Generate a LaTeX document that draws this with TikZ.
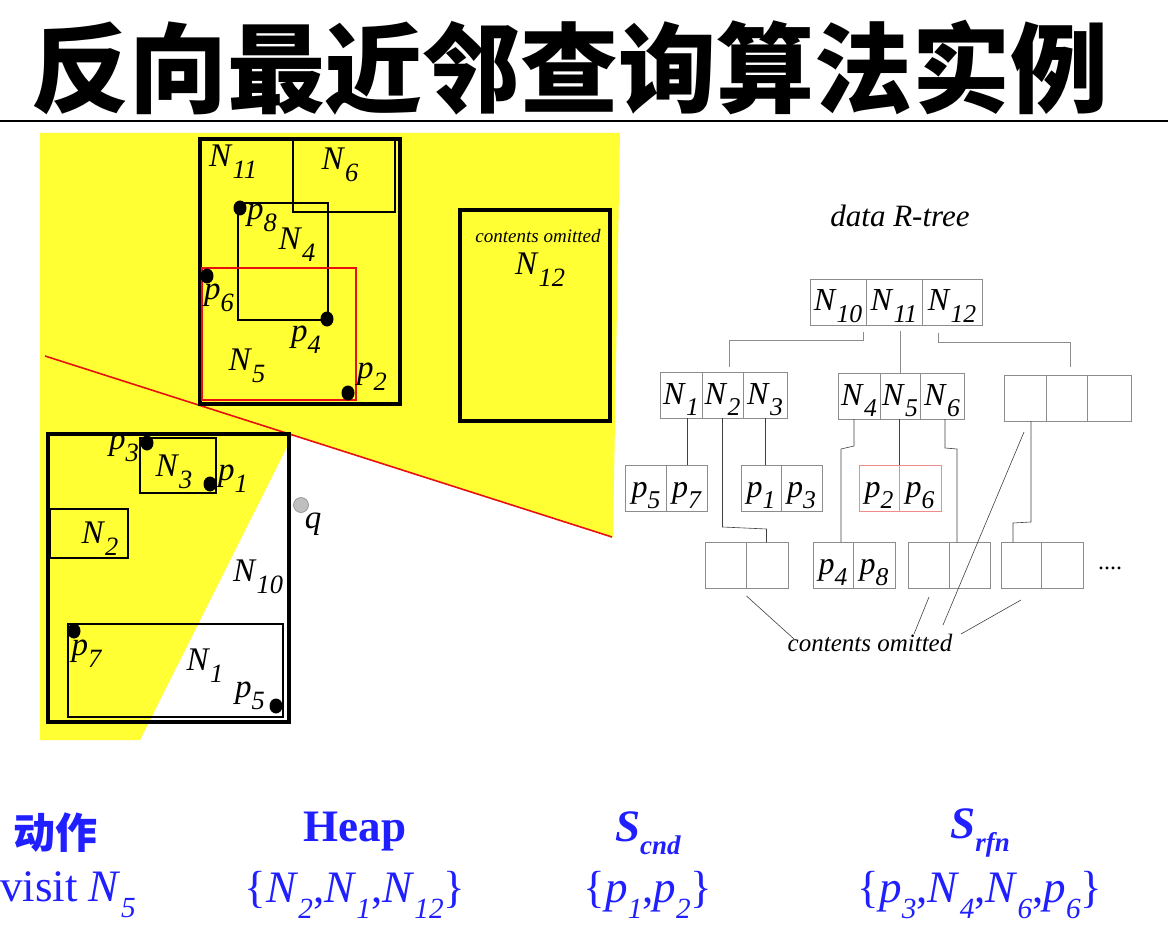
\documentclass[tikz,border=0pt]{standalone}
\usepackage{fontspec}
\setmainfont{Liberation Serif}
\newfontfamily\cjk{Noto Sans CJK SC}
\usetikzlibrary{positioning,calc}
\definecolor{RnnYellow}{HTML}{FFFF33}
\definecolor{RnnRed}{HTML}{E81010}
\definecolor{RnnBlue}{HTML}{1F1FFF}
\definecolor{RnnGray}{HTML}{8C8C8C}
\definecolor{RnnPink}{HTML}{F08C8C}
\newcommand{\idx}[3][0.8]{\textit{#2}\raisebox{-0.36em}{\scalebox{#1}{\textit{#3}}}}

\tikzset{
  bigmbr/.style={draw=black, line width=4pt},
  mbr/.style={draw=black, line width=2.2pt},
  lbl/.style={inner sep=0pt, font=\fontsize{33}{34}\selectfont},
  cell/.style={draw=RnnGray, line width=0.8pt, minimum height=46pt, inner sep=0pt, outer sep=0pt,
    text height=26pt, text depth=8pt, font=\fontsize{32}{33}\selectfont},
  link/.style={black!75, line width=0.6pt},
  toplink/.style={RnnGray, line width=0.8pt},
  foot/.style={RnnBlue, inner sep=0pt, font=\fontsize{45}{46}\selectfont}
}

\begin{document}
\begin{tikzpicture}[x=1pt,y=-1pt]
    \useasboundingbox (0,0) rectangle (1168,952);

    \node[font=\cjk\bfseries\fontsize{98}{100}\selectfont, inner sep=0pt] (title) at (570,68) {反向最近邻查询算法实例};
    \draw[line width=2.5pt] (0,121) -- (1168,121);

    % pruned region and bisector
    \fill[RnnYellow] (40,133) -- (620,133) -- (613,537) -- (293,435) -- (140,740) -- (40,740) -- cycle;
    \draw[RnnRed, line width=1.6pt] (45,356) -- (612,537);

    % MBRs
    \draw[bigmbr] (200,139) rectangle (400,404);
    \draw[mbr] (293,139) rectangle (395,212);
    \draw[mbr] (238,203) rectangle (328,320);
    \draw[RnnRed, line width=2pt] (202,268) rectangle (356,400);
    \draw[bigmbr] (460,210) rectangle (610,421);
    \draw[bigmbr] (48,434) rectangle (289,722);
    \draw[mbr] (140,438) rectangle (216,493);
    \draw[mbr] (50,509) rectangle (128,558);
    \draw[mbr] (68,624) rectangle (283,717);

    % data points
    \foreach \px/\py in {240/208, 207/276, 327/319, 348/393, 147/443, 210/484, 74/631, 276/706}
      \fill (\px,\py) ellipse [x radius=6.5pt, y radius=7.5pt];
    \filldraw[fill=black!25, draw=black!45, line width=0.6pt] (301,505) circle [radius=7.5pt];

    \node[lbl] (tN11) at (233,162) {\idx{N}{11}};
    \node[lbl] (tN6) at (340,165) {\idx{N}{6}};
    \node[lbl] (tp8) at (262,218) {\idx{p}{8}};
    \node[lbl] (tN4) at (297,245) {\idx{N}{4}};
    \node[lbl] (tp6) at (219,298) {\idx{p}{6}};
    \node[lbl] (tp4) at (306,340) {\idx{p}{4}};
    \node[lbl] (tN5) at (247,366) {\idx{N}{5}};
    \node[lbl] (tp2) at (372,377) {\idx{p}{2}};
    \node[inner sep=0pt, font=\itshape\fontsize{19}{20}\selectfont] (tomit) at (538,236) {contents omitted};
    \node[lbl] (tN12) at (540,270) {\idx{N}{12}};
    \node[lbl] (tp3) at (124,448) {\idx{p}{3}};
    \node[lbl] (tN3) at (174,472) {\idx{N}{3}};
    \node[lbl] (tp1) at (233,479) {\idx{p}{1}};
    \node[lbl] (tN2) at (100,539) {\idx{N}{2}};
    \node[lbl] (tq) at (313,524) {\textit{q}};
    \node[lbl] (tN10) at (258,577) {\idx{N}{10}};
    \node[lbl] (tp7) at (87,654) {\idx{p}{7}};
    \node[lbl] (tN1) at (205,666) {\idx{N}{1}};
    \node[lbl] (tp5) at (250,696) {\idx{p}{5}};

    % data R-tree
    \node[inner sep=0pt, font=\itshape\fontsize{31}{32}\selectfont] (rtree) at (900,216) {data R-tree};

    \node[cell, minimum width=56pt] (r10) at (838,302) {\idx{N}{10}};
    \node[cell, minimum width=56pt, right=0pt of r10] (r11) {\idx{N}{11}};
    \node[cell, minimum width=60pt, right=0pt of r11] (r12) {\idx{N}{12}};

    \node[cell, minimum width=42pt] (a1) at (681,395) {\idx{N}{1}};
    \node[cell, minimum width=41pt, right=0pt of a1] (a2) {\idx{N}{2}};
    \node[cell, minimum width=44pt, right=0pt of a2] (a3) {\idx{N}{3}};
    \node[cell, minimum width=42pt] (b4) at (859,396) {\idx{N}{4}};
    \node[cell, minimum width=40pt, right=0pt of b4] (b5) {\idx{N}{5}};
    \node[cell, minimum width=44pt, right=0pt of b5] (b6) {\idx{N}{6}};
    \node[cell, minimum width=42pt] (c1) at (1025,398) {};
    \node[cell, minimum width=41pt, right=0pt of c1] (c2) {};
    \node[cell, minimum width=44pt, right=0pt of c2] (c3) {};

    \node[cell, minimum width=41pt] (p5c) at (646,488) {\idx{p}{5}};
    \node[cell, minimum width=41pt, right=0pt of p5c] (p7c) {\idx{p}{7}};
    \node[cell, minimum width=40pt] (p1c) at (761,488) {\idx{p}{1}};
    \node[cell, minimum width=41pt, right=0pt of p1c] (p3c) {\idx{p}{3}};
    \node[cell, draw=RnnPink, minimum width=40pt] (p2c) at (879,488) {\idx{p}{2}};
    \node[cell, draw=RnnPink, minimum width=42pt, right=0pt of p2c] (p6c) {\idx{p}{6}};

    \node[cell, minimum width=41pt] (e1) at (726,565) {};
    \node[cell, minimum width=42pt, right=0pt of e1] (e1b) {};
    \node[cell, minimum width=40pt] (p4c) at (833,565) {\idx{p}{4}};
    \node[cell, minimum width=42pt, right=0pt of p4c] (p8c) {\idx{p}{8}};
    \node[cell, minimum width=41pt] (e2) at (929,565) {};
    \node[cell, minimum width=41pt, right=0pt of e2] (e2b) {};
    \node[cell, minimum width=40pt] (e3) at (1021,565) {};
    \node[cell, minimum width=42pt, right=0pt of e3] (e3b) {};
    \node[inner sep=0pt, font=\fontsize{24}{25}\selectfont] (more) at (1110,568) {....};

    \node[inner sep=0pt, font=\itshape\fontsize{25}{26}\selectfont] (omit) at (870,643) {contents omitted};

    \draw[toplink] ([xshift=-3pt,yshift=-7pt]r10.south east) -- ++(0,8) -| ([xshift=7pt,yshift=5pt]a2.north);
    \draw[toplink] ([yshift=-6pt]b5.north |- r11.south) -- (b5.north);
    \draw[toplink] ([xshift=-14pt,yshift=-8pt]r12.south) -- ++(0,9) -| ([xshift=4pt,yshift=8pt]c2.north);

    \draw[link] (p7c.north) -- (p7c.north |- a1.south);
    \draw[link] (a2.south) -- ++(0,109) -- ++(44,2) coordinate (k1) -- (k1 |- e1b.north);
    \draw[link] (a3.south) -- (a3.south |- p1c.north);
    \draw[link] ([xshift=-5pt]b4.south) -- ++(0,27) -- ++(-13,3) coordinate (k2) -- (k2 |- p4c.north);
    \draw[link] (p2c.north east |- b5.south) -- (p2c.north east);
    \draw[link] ([xshift=3pt]b6.south) -- ++(0,29) -- ++(12,1) coordinate (k3) -- (k3 |- e2b.north);
    \draw[link] ([xshift=6pt]c1.south) -- ++(0,101) -- ++(-18,1) coordinate (k4) -- (k4 |- e3.north);

    \draw[link] ([yshift=-8pt]e1b.south west) -- ([xshift=-76pt,yshift=-5pt]omit.north);
    \draw[link] ([yshift=-9pt]e2.south) -- ([xshift=44pt]omit.north);
    \draw[link] ([xshift=-1pt,yshift=-11pt]c1.south) -- ([xshift=73pt,yshift=9pt]omit.north);
    \draw[link] ([yshift=-12pt]e3.south) -- ([xshift=91pt]omit.north);

    % algorithm state
    \node[foot, font=\cjk\bfseries\fontsize{42}{44}\selectfont] (hAct) at (55,833) {动作};
    \node[foot, font=\bfseries\fontsize{45}{46}\selectfont] (hHeap) at (355,832) {Heap};
    \node[foot, font=\bfseries\fontsize{45}{46}\selectfont] (hCnd) at (648,833) {\textit{S}\raisebox{-0.3em}{\scalebox{0.6}{\textit{cnd}}}};
    \node[foot, font=\bfseries\fontsize{45}{46}\selectfont] (hRfn) at (980,833) {\textit{S}\raisebox{-0.3em}{\scalebox{0.6}{\textit{rfn}}}};
    \node[foot, anchor=west] (vAct) at (0,895) {visit \idx[0.65]{N}{5}};
    \node[foot] (vHeap) at (355,895) {\{\idx[0.65]{N}{2},\idx[0.65]{N}{1},\idx[0.65]{N}{12}\}};
    \node[foot] (vCnd) at (648,895) {\{\idx[0.65]{p}{1},\idx[0.65]{p}{2}\}};
    \node[foot] (vRfn) at (980,895) {\{\idx[0.65]{p}{3},\idx[0.65]{N}{4},\idx[0.65]{N}{6},\idx[0.65]{p}{6}\}};
  \end{tikzpicture}
\end{document}
